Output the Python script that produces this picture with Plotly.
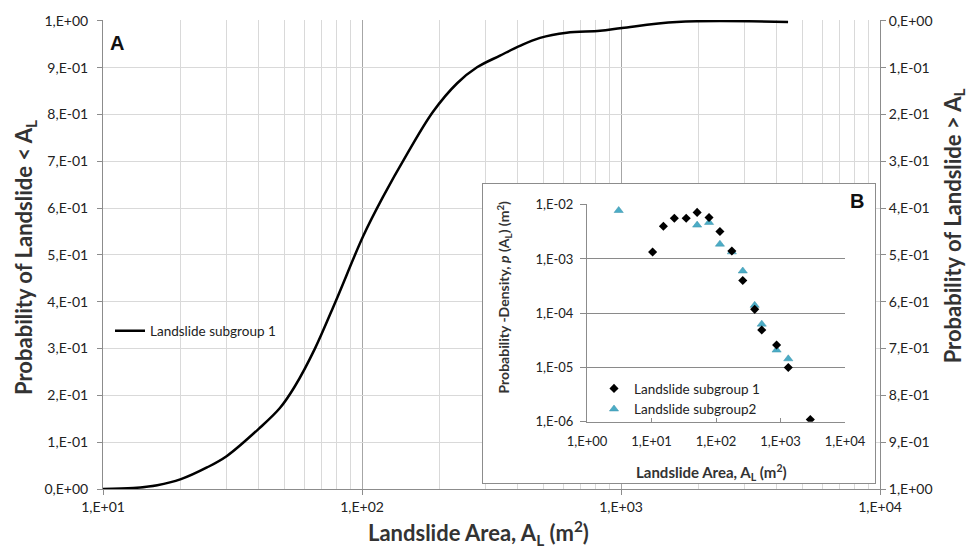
import plotly.graph_objects as go

# ---------------- data ----------------
# Panel A: cumulative probability (subgroup 1)
cdf_area = [10, 13.1, 16.2, 20, 25.2, 30, 40, 48.2, 55, 65.8, 79.4, 101, 120.5, 149,
            188, 233, 278, 341, 407, 487, 617, 830, 1009, 1644, 4416]
cdf_prob = [0, 0.002, 0.008, 0.021, 0.046, 0.07, 0.129, 0.173, 0.219, 0.30, 0.403,
            0.540, 0.624, 0.715, 0.806, 0.867, 0.901, 0.926, 0.947, 0.964, 0.975,
            0.979, 0.985, 0.998, 0.998]

# Panel B: probability density
sg1_area = [10.4, 15.3, 22.6, 34.5, 51, 78, 115, 176, 260, 398, 512, 870, 1320, 2900]
sg1_dens = [1.34e-3, 4.0e-3, 5.6e-3, 5.6e-3, 7.2e-3, 5.8e-3, 3.2e-3, 1.4e-3, 4.0e-4,
            1.18e-4, 4.9e-5, 2.6e-5, 1.0e-5, 1.1e-6]
sg2_area = [3.1, 51, 78, 115, 176, 260, 398, 512, 870, 1320]
sg2_dens = [7.8e-3, 4.2e-3, 4.7e-3, 1.87e-3, 1.35e-3, 6.0e-4, 1.4e-4, 6.3e-5, 2.1e-5, 1.45e-5]

main_xticks = [10, 100, 1000, 10000]
main_xtext = ["1,E+01", "1,E+02", "1,E+03", "1,E+04"]
prob_ticks = [0, 0.1, 0.2, 0.3, 0.4, 0.5, 0.6, 0.7, 0.8, 0.9, 1.0]
prob_text = ["0,E+00", "1,E-01", "2,E-01", "3,E-01", "4,E-01", "5,E-01",
             "6,E-01", "7,E-01", "8,E-01", "9,E-01", "1,E+00"]
inset_xticks = [1, 10, 100, 1000, 10000]
inset_xtext = ["1,E+00", "1,E+01", "1,E+02", "1,E+03", "1,E+04"]
inset_yticks = [1e-6, 1e-5, 1e-4, 1e-3, 1e-2]
inset_ytext = ["1,E-06", "1,E-05", "1,E-04", "1,E-03", "1,E-02"]

# ---------------- geometry helpers ----------------
W, H = 974, 553
L, R, T, B = 103, 94, 14, 64
PW, PH = W - L - R, H - T - B


def xp(px):
    return (px - L) / PW


def yp(py):
    return (H - B - py) / PH


FONT = "Lato, 'Open Sans', sans-serif"
GRID_MINOR = "#d9d9d9"
GRID_MAJOR = "#a6a6a6"
AXIS = "#8c8c8c"

minor_vals = [m * 10 ** k for k in (1, 2, 3) for m in range(2, 10)]

fig = go.Figure()

# Panel A curve
fig.add_trace(go.Scatter(
    x=cdf_area, y=cdf_prob, mode="lines", name="Landslide subgroup 1",
    line=dict(color="black", width=2.5, shape="spline", smoothing=1.0),
    xaxis="x", yaxis="y", legend="legend", hoverinfo="skip"))
# invisible exceedance trace to activate the right axis
fig.add_trace(go.Scatter(
    x=cdf_area, y=[1 - p for p in cdf_prob], mode="lines", showlegend=False,
    line=dict(color="rgba(0,0,0,0)", width=0), xaxis="x", yaxis="y2", hoverinfo="skip"))

# box behind inset (white panel)
fig.add_trace(go.Scatter(x=[0.5], y=[0.5], mode="markers", marker=dict(opacity=0),
                         showlegend=False, xaxis="x3", yaxis="y3", hoverinfo="skip"))

# Panel B points (triangles under diamonds)
fig.add_trace(go.Scatter(
    x=sg2_area, y=sg2_dens, mode="markers", name="Landslide subgroup2",
    marker=dict(symbol="triangle-up", size=8, color="#4bacc6",
                line=dict(color="#3d93ab", width=0.5)),
    xaxis="x4", yaxis="y4", legend="legend2", legendrank=2, hoverinfo="skip"))
fig.add_trace(go.Scatter(
    x=sg1_area, y=sg1_dens, mode="markers", name="Landslide subgroup 1",
    marker=dict(symbol="diamond", size=7, color="black"),
    xaxis="x4", yaxis="y4", legend="legend2", legendrank=1, hoverinfo="skip"))

fig.update_layout(
    width=W, height=H,
    margin=dict(l=L, r=R, t=T, b=B),
    paper_bgcolor="white", plot_bgcolor="white",
    font=dict(family=FONT, size=14, color="#222"),
    xaxis=dict(
        type="log", range=[1, 4], domain=[0, 1], anchor="y",
        tickvals=main_xticks, ticktext=main_xtext,
        showgrid=True, gridcolor=GRID_MAJOR, gridwidth=1,
        minor=dict(tickvals=minor_vals, showgrid=True, gridcolor=GRID_MINOR, ticks=""),
        showline=True, linecolor=AXIS, ticks="outside", ticklen=5, tickcolor=AXIS,
        zeroline=False, tickfont=dict(size=14, color="#222"), fixedrange=True),
    yaxis=dict(
        range=[0, 1.0021], domain=[0, 1], anchor="x",
        tickvals=prob_ticks, ticktext=prob_text,
        showgrid=True, gridcolor=GRID_MINOR, showline=True, linecolor=AXIS,
        ticks="outside", ticklen=5, tickcolor=AXIS, ticklabelstandoff=6,
        zeroline=False, tickfont=dict(size=14, color="#222"), fixedrange=True),
    yaxis2=dict(
        range=[1, -0.0021], overlaying="y", side="right", anchor="x",
        tickvals=prob_ticks, ticktext=prob_text,
        showgrid=False, showline=True, linecolor=AXIS,
        ticks="outside", ticklen=5, tickcolor=AXIS,
        zeroline=False, tickfont=dict(size=14, color="#222"), fixedrange=True),
    xaxis3=dict(
        domain=[xp(483), xp(875)], anchor="y3", range=[0, 1],
        showgrid=False, zeroline=False, showticklabels=False, ticks="",
        showline=True, mirror=True, linecolor=AXIS, fixedrange=True),
    yaxis3=dict(
        domain=[yp(483), yp(180)], anchor="x3", range=[0, 1],
        showgrid=False, zeroline=False, showticklabels=False, ticks="",
        showline=True, mirror=True, linecolor=AXIS, fixedrange=True),
    xaxis4=dict(
        type="log", domain=[xp(587), xp(845)], anchor="y4", range=[0, 4],
        tickvals=inset_xticks, ticktext=inset_xtext,
        showgrid=False, zeroline=False, showline=True, linecolor=AXIS,
        ticks="inside", ticklen=4, tickcolor=AXIS, ticklabelstandoff=8,
        tickfont=dict(size=13, color="#222"), fixedrange=True),
    yaxis4=dict(
        type="log", domain=[yp(421), yp(200.45)], anchor="x4", range=[-6, -1.99],
        tickvals=inset_yticks, ticktext=inset_ytext,
        showgrid=True, gridcolor="#8a8a8a", zeroline=False, showline=True, linecolor=AXIS,
        ticks="outside", ticklen=6, tickcolor="#8a8a8a", ticklabelstandoff=4,
        tickfont=dict(size=13, color="#222"), fixedrange=True),
    legend=dict(
        x=xp(110), y=yp(329), xanchor="left", yanchor="middle",
        bgcolor="rgba(255,255,255,0)", borderwidth=0, itemwidth=30,
        font=dict(size=13.5, color="#222", family=FONT), tracegroupgap=0),
    legend2=dict(
        x=xp(594), y=yp(398), xanchor="left", yanchor="middle",
        bgcolor="rgba(255,255,255,0)", borderwidth=0, itemwidth=30,
        font=dict(size=13.5, color="#222", family=FONT), tracegroupgap=0,
        traceorder="normal"),
    showlegend=True,
)

annos = [
    dict(text="<b>A</b>", x=xp(117), y=yp(37), font=dict(size=20, family="Liberation Sans, Arial", color="#111")),
    dict(text="<b>B</b>", x=xp(857), y=yp(197), font=dict(size=20, family="Liberation Sans, Arial", color="#111")),
    dict(text="<b>Landslide Area, A<sub>L</sub> (m<sup>2</sup>)</b>", x=xp(478), y=yp(534),
         font=dict(size=22, color="#333")),
    dict(text="<b>Probability of Landslide < A<sub>L</sub></b>", x=xp(25), y=yp(255),
         textangle=-90, font=dict(size=22, color="#333")),
    dict(text="<b>Probability of Landslide > A<sub>L</sub></b>", x=xp(954), y=yp(223),
         textangle=-90, font=dict(size=22, color="#333")),
    dict(text="<b>Landslide Area, A<sub>L</sub> (m<sup>2</sup>)</b>", x=xp(711), y=yp(472),
         font=dict(size=15, color="#333")),
    dict(text="<b>Probability -Density, <i>p</i> (A<sub>L</sub>) (m<sup>2</sup>)</b>", x=xp(504), y=yp(295),
         textangle=-90, font=dict(size=14, color="#333")),
]
for a in annos:
    a.update(xref="paper", yref="paper", showarrow=False, xanchor="center", yanchor="middle")
fig.update_layout(annotations=annos)

fig.write_html("out.html", config={"displayModeBar": False},
               post_script="document.body.style.margin='0';document.body.style.overflow='hidden';")
